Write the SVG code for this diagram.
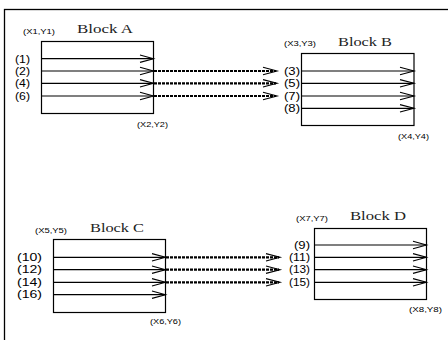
<svg xmlns="http://www.w3.org/2000/svg" width="448" height="340" viewBox="0 0 448 340">
<defs>
<style>
.frame{fill:none;stroke:#000;stroke-width:1.3}
.box{fill:#fff;stroke:#000;stroke-width:1.2}
.sig{stroke:#000;stroke-width:1.2;fill:none}
.chev{stroke:#000;stroke-width:1.1;fill:none}
.dash{stroke:#000;stroke-width:2.2;stroke-dasharray:3 1;fill:none}
.lbl{font-family:"Liberation Sans",Arial,sans-serif;font-size:10.8px;fill:#000;text-anchor:end}
.coord{font-family:"Liberation Sans",Arial,sans-serif;font-size:8px;fill:#000}
.title{font-family:"Liberation Serif","Times New Roman",serif;font-size:13.5px;fill:#222}
</style>
</defs>
<rect class="frame" x="4.5" y="9.5" width="460" height="340"/>
<g id="connectors">
<path class="dash" d="M154 71H276M154 83.3H276M154 96H276"/>
<path class="chev" d="M263 67.3L277 71L263 74.7M263 79.6L277 83.3L263 87M263 92.3L277 96L263 99.7"/>
<path class="dash" d="M166 257.3H279M166 269.7H279M166 282.3H279"/>
<path class="chev" d="M266 253.6L280 257.3L266 261M266 266L280 269.7L266 273.4M266 278.6L280 282.3L266 286"/>
</g>
<g id="blockA">
<rect class="box" x="41.5" y="41.5" width="112" height="72"/>
<path class="sig" d="M41.5 58.7H153.5M41.5 71H153.5M41.5 83.3H153.5M41.5 96H153.5"/>
<path class="chev" d="M140 55L153.5 58.7L140 62.4M140 67.3L153.5 71L140 74.7M140 79.6L153.5 83.3L140 87M140 92.3L153.5 96L140 99.7"/>
<text class="title" x="77" y="33" textLength="56" lengthAdjust="spacingAndGlyphs">Block A</text>
<text class="coord" x="23" y="34" textLength="32" lengthAdjust="spacingAndGlyphs">(X1,Y1)</text>
<text class="coord" x="137" y="127" textLength="31" lengthAdjust="spacingAndGlyphs">(X2,Y2)</text>
<text class="lbl" x="30" y="62.5" textLength="15" lengthAdjust="spacingAndGlyphs">(1)</text>
<text class="lbl" x="30" y="74.8" textLength="15" lengthAdjust="spacingAndGlyphs">(2)</text>
<text class="lbl" x="30" y="87.1" textLength="15" lengthAdjust="spacingAndGlyphs">(4)</text>
<text class="lbl" x="30" y="99.5" textLength="15" lengthAdjust="spacingAndGlyphs">(6)</text>
</g>
<g id="blockB">
<rect class="box" x="301.5" y="53.5" width="112.5" height="72"/>
<path class="sig" d="M301.5 71H414M301.5 83.3H414M301.5 96H414M301.5 108.3H414"/>
<path class="chev" d="M400 67.3L414 71L400 74.7M400 79.6L414 83.3L400 87M400 92.3L414 96L400 99.7M400 104.6L414 108.3L400 112"/>
<text class="title" x="338" y="45.5" textLength="54" lengthAdjust="spacingAndGlyphs">Block B</text>
<text class="coord" x="284" y="46" textLength="32" lengthAdjust="spacingAndGlyphs">(X3,Y3)</text>
<text class="coord" x="398" y="139" textLength="31" lengthAdjust="spacingAndGlyphs">(X4,Y4)</text>
<text class="lbl" x="300" y="74.8" textLength="16" lengthAdjust="spacingAndGlyphs">(3)</text>
<text class="lbl" x="300" y="87.1" textLength="16" lengthAdjust="spacingAndGlyphs">(5)</text>
<text class="lbl" x="300" y="99.5" textLength="16" lengthAdjust="spacingAndGlyphs">(7)</text>
<text class="lbl" x="300" y="112" textLength="16" lengthAdjust="spacingAndGlyphs">(8)</text>
</g>
<g id="blockC">
<rect class="box" x="53.5" y="239.5" width="112" height="73"/>
<path class="sig" d="M53.5 257.3H165.5M53.5 269.7H165.5M53.5 282.3H165.5M53.5 294.7H165.5"/>
<path class="chev" d="M152 253.6L165.5 257.3L152 261M152 266L165.5 269.7L152 273.4M152 278.6L165.5 282.3L152 286M152 291L165.5 294.7L152 298.4"/>
<text class="title" x="90" y="232" textLength="54" lengthAdjust="spacingAndGlyphs">Block C</text>
<text class="coord" x="35" y="232.5" textLength="32" lengthAdjust="spacingAndGlyphs">(X5,Y5)</text>
<text class="coord" x="150" y="324" textLength="31" lengthAdjust="spacingAndGlyphs">(X6,Y6)</text>
<text class="lbl" x="42" y="261" textLength="25" lengthAdjust="spacingAndGlyphs">(10)</text>
<text class="lbl" x="42" y="273.4" textLength="25" lengthAdjust="spacingAndGlyphs">(12)</text>
<text class="lbl" x="42" y="286" textLength="25" lengthAdjust="spacingAndGlyphs">(14)</text>
<text class="lbl" x="42" y="298.4" textLength="25" lengthAdjust="spacingAndGlyphs">(16)</text>
</g>
<g id="blockD">
<rect class="box" x="314.5" y="228.5" width="112" height="71"/>
<path class="sig" d="M314.5 245H426.5M314.5 257.3H426.5M314.5 269.7H426.5M314.5 282.3H426.5"/>
<path class="chev" d="M413 241.3L426.5 245L413 248.7M413 253.6L426.5 257.3L413 261M413 266L426.5 269.7L413 273.4M413 278.6L426.5 282.3L413 286"/>
<text class="title" x="350" y="220" textLength="56" lengthAdjust="spacingAndGlyphs">Block D</text>
<text class="coord" x="296" y="220.5" textLength="32" lengthAdjust="spacingAndGlyphs">(X7,Y7)</text>
<text class="coord" x="409" y="311.5" textLength="33" lengthAdjust="spacingAndGlyphs">(X8,Y8)</text>
<text class="lbl" x="310" y="248.5" textLength="16" lengthAdjust="spacingAndGlyphs">(9)</text>
<text class="lbl" x="310" y="261" textLength="21" lengthAdjust="spacingAndGlyphs">(11)</text>
<text class="lbl" x="310" y="273.4" textLength="21" lengthAdjust="spacingAndGlyphs">(13)</text>
<text class="lbl" x="310" y="286" textLength="21" lengthAdjust="spacingAndGlyphs">(15)</text>
</g>
</svg>
